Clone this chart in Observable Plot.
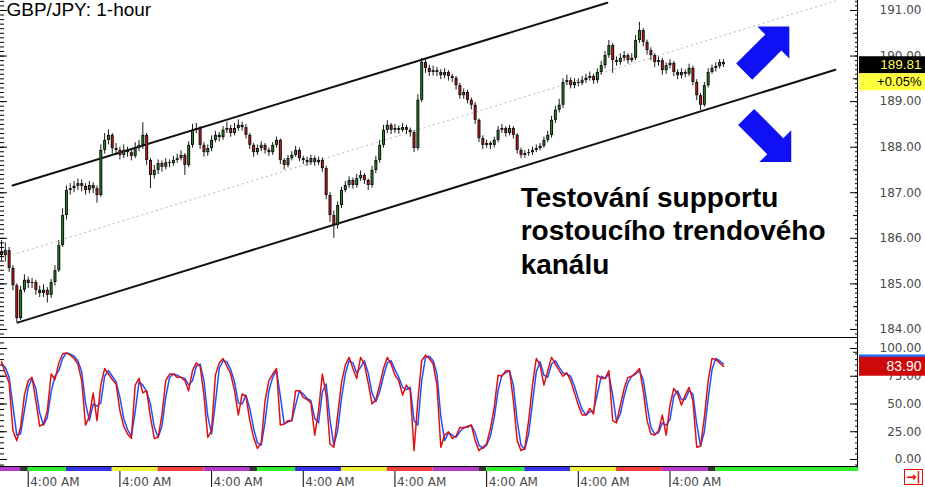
<!DOCTYPE html>
<html><head><meta charset="utf-8">
<script src="https://cdn.jsdelivr.net/npm/d3@7"></script>
<script src="https://cdn.jsdelivr.net/npm/@observablehq/plot@0.6"></script>
<style>
html,body{margin:0;padding:0;background:#fff;}
#chart{position:relative;width:925px;height:487px;overflow:hidden;font-family:"Liberation Sans",Arial,sans-serif;}
#chart svg{position:absolute;left:0;}
.hline{position:absolute;left:0;height:1px;background:#000;}
.vline{position:absolute;width:1px;background:#000;}
#endbtn{position:absolute;left:904px;top:469px;width:17px;height:14px;border:1px solid #e00;color:#e00;font:bold 12px "DejaVu Sans",sans-serif;line-height:14px;text-align:center;}
</style></head><body><div id="chart"></div>
<script>
// ---------------- DATA ----------------
const title = "GBP/JPY: 1-hour";
const annotation = "Testování supportu\nrostoucího trendového\nkanálu";
const firstOpen = 185.70;
// hourly closes (candle index 0..189)
const closes = [
185.62,185.73,185.34,184.96,184.24,184.86,185.08,185.01,185.03,184.86,
184.79,184.86,184.75,185.03,185.29,185.84,186.50,187.05,187.09,187.14,
187.20,187.14,187.05,187.16,187.09,186.94,187.93,188.15,188.26,187.97,
187.93,187.82,187.93,187.88,187.80,187.97,188.04,188.26,187.71,187.38,
187.49,187.64,187.56,187.66,187.64,187.71,187.75,187.82,187.60,188.04,
188.37,188.41,188.04,187.88,187.97,188.15,188.26,188.21,188.37,188.41,
188.30,188.41,188.48,188.43,188.26,188.04,187.88,187.97,188.04,187.93,
187.88,188.04,188.15,187.71,187.60,187.75,187.82,187.93,187.75,187.71,
187.66,187.75,187.66,187.71,187.53,186.94,186.50,186.28,186.72,187.05,
187.16,187.27,187.16,187.31,187.38,187.27,187.16,187.49,187.71,188.04,
188.37,188.48,188.37,188.41,188.37,188.43,188.37,188.32,187.97,189.03,
189.86,189.73,189.64,189.68,189.64,189.57,189.64,189.55,189.51,189.35,
189.13,189.20,189.03,188.92,188.59,188.19,188.04,188.08,188.04,188.15,
188.37,188.41,188.30,188.41,188.26,187.93,187.82,187.86,187.88,187.93,
187.97,188.02,188.15,188.26,188.59,188.81,188.92,189.42,189.46,189.35,
189.42,189.40,189.46,189.51,189.55,189.46,189.64,189.79,190.01,190.23,
189.90,189.86,189.95,190.01,189.90,189.95,190.34,190.56,190.30,190.12,
190.01,189.86,189.90,189.68,189.79,189.84,189.64,189.57,189.64,189.60,
189.73,189.42,189.13,188.92,189.35,189.64,189.73,189.77,189.86,189.81];
const highs = [
185.95,185.90,185.80,185.40,185.00,184.95,185.20,185.15,185.12,185.08,
184.95,184.98,184.92,185.10,185.40,185.95,186.65,187.15,187.20,187.25,
187.30,187.28,187.20,187.25,187.22,187.15,188.05,188.30,188.38,188.30,
188.08,188.00,188.05,188.00,187.95,188.10,188.15,188.54,188.30,187.75,
187.60,187.72,187.70,187.75,187.72,187.80,187.85,187.92,187.86,188.12,
188.50,188.52,188.45,188.10,188.05,188.25,188.35,188.32,188.45,188.55,
188.48,188.52,188.60,188.55,188.50,188.30,188.08,188.05,188.12,188.08,
187.98,188.10,188.22,188.18,187.75,187.82,187.90,188.02,187.98,187.80,
187.78,187.82,187.80,187.78,187.76,187.58,187.00,186.60,186.80,187.12,
187.25,187.35,187.32,187.40,187.48,187.42,187.30,187.58,187.80,188.15,
188.48,188.58,188.52,188.50,188.46,188.52,188.48,188.42,188.36,189.15,
189.95,189.92,189.80,189.78,189.75,189.70,189.72,189.68,189.60,189.55,
189.40,189.28,189.25,189.08,188.98,188.62,188.25,188.15,188.12,188.22,
188.45,188.50,188.45,188.48,188.45,188.30,187.98,187.92,187.95,188.00,
188.05,188.08,188.22,188.35,188.68,188.90,189.05,189.50,189.58,189.52,
189.50,189.50,189.55,189.60,189.65,189.60,189.72,189.88,190.10,190.34,
190.28,189.98,190.05,190.10,190.05,190.05,190.45,190.74,190.60,190.35,
190.18,190.05,189.98,189.95,189.85,189.92,189.88,189.70,189.72,189.70,
189.82,189.78,189.48,189.18,189.42,189.72,189.80,189.85,189.92,189.92];
const lows = [
185.50,185.48,185.25,184.85,184.15,184.20,184.80,184.90,184.90,184.75,
184.70,184.70,184.58,184.68,184.95,185.25,185.80,186.40,186.95,187.00,
187.05,187.02,186.95,186.98,186.98,186.77,186.90,187.85,188.05,187.85,
187.82,187.72,187.75,187.78,187.70,187.75,187.90,187.95,187.60,187.09,
187.30,187.40,187.45,187.50,187.55,187.58,187.65,187.70,187.38,187.55,
187.98,188.30,187.95,187.78,187.80,187.90,188.10,188.12,188.15,188.30,
188.22,188.25,188.35,188.35,188.18,187.95,187.78,187.82,187.90,187.85,
187.80,187.82,187.98,187.62,187.50,187.55,187.70,187.78,187.68,187.62,
187.58,187.60,187.58,187.60,187.45,186.85,186.35,186.00,186.20,186.65,
187.00,187.10,187.08,187.10,187.25,187.18,187.05,187.10,187.42,187.65,
187.98,188.30,188.28,188.30,188.28,188.32,188.28,188.22,187.88,187.92,
188.98,189.62,189.55,189.56,189.55,189.48,189.50,189.45,189.42,189.25,
189.05,189.05,188.95,188.82,188.50,188.10,187.95,187.98,187.95,187.98,
188.10,188.30,188.22,188.25,188.18,187.85,187.75,187.76,187.80,187.82,
187.88,187.92,187.98,188.10,188.20,188.52,188.75,188.85,189.35,189.28,
189.28,189.32,189.35,189.40,189.45,189.38,189.40,189.58,189.72,189.95,
189.62,189.78,189.80,189.88,189.82,189.85,189.90,190.28,190.20,190.02,
189.90,189.75,189.78,189.58,189.60,189.72,189.55,189.48,189.50,189.52,
189.55,189.35,189.02,188.81,188.88,189.30,189.60,189.65,189.72,189.75];
// stochastic %K (red) and %D (blue), one value per candle
const stochK = [
88,78,69,26,17,29,58,71,74,53, 30,32,44,77,72,87,95,96,94,91,
86,71,31,39,60,35,67,82,77,72, 68,44,30,23,19,67,73,60,62,38,
19,20,40,71,77,77,74,74,71,62, 80,87,84,58,20,26,76,87,91,84,
77,62,40,59,57,35,20,10,15,53, 71,77,82,31,32,35,35,62,62,56,
54,51,22,44,77,58,14,11,40,69, 85,92,82,73,92,86,69,50,54,67,
82,92,86,76,71,58,67,62,8,53, 89,94,91,86,67,11,22,25,19,21,
29,28,30,31,17,8,11,14,28,47, 76,75,80,80,53,17,8,10,35,67,
91,85,67,80,92,86,80,75,78,71, 60,49,40,40,46,41,76,73,73,80,
35,33,49,64,74,75,78,82,62,35, 23,22,26,40,22,49,64,59,49,58,
65,53,11,12,38,71,91,90,87,83.9];
const stochD = [
86,83,74,48,22,23,44,65,73,64, 42,31,38,61,75,80,91,96,95,93,
89,79,51,35,50,48,51,75,80,75, 70,56,37,27,21,43,70,67,61,50,
29,20,30,56,74,77,76,74,73,67, 71,84,86,71,39,23,51,82,89,88,
81,70,51,50,58,46,28,15,13,34, 62,74,80,57,32,34,35,49,62,59,
55,53,37,33,61,68,36,13,26,55, 77,89,87,78,83,89,78,60,52,61,
75,87,89,81,74,65,63,65,35,31, 71,92,93,89,77,39,17,24,22,20,
25,29,29,31,24,13,10,13,21,38, 62,76,78,80,67,35,13,9,23,51,
79,88,76,74,86,89,83,78,77,75, 66,55,45,40,43,44,59,75,73,77,
58,34,41,57,69,75,77,80,72,49, 29,23,24,33,31,36,57,62,54,54,
62,59,32,12,25,55,81,91,89,86];
// trend channel (hour index, price)
const upperLine = [{h: 2.9, p: 187.16}, {h: 158.6, p: 191.17}];
const lowerLine = [{h: 4.2, p: 184.15}, {h: 218.3, p: 189.70}];
const midLine   = [{h: 4.2, p: 185.67}, {h: 218.3, p: 191.21}];
// breakout / breakdown arrows (hour index, price)
const arrows = [{h: 199.5, p: 190.06, dir: "up"}, {h: 200.0, p: 188.26, dir: "down"}];
const annotationPos = {h: 135.9, p: 186.19};
// axes
const priceTicks = [184, 185, 186, 187, 188, 189, 190, 191];
const stochTicks = [0, 25, 50, 75, 100];
const timeTicks = [7, 31, 55, 79, 103, 127, 151, 175];
const timeLabel = "4:00 AM";
const lastPriceLabel = "189.81";
const changeLabel = "+0.05%";
const lastStochLabel = "83.90";
// session colour strip (hour ranges, session id 0..5)
const sessionStart = [-0.3, 5, 7, 17, 29, 41, 53, 65, 67, 77, 89, 101, 113, 125, 127, 137, 149, 161, 173, 185, 187];
const sessionEnd   = [5, 7, 17, 29, 41, 53, 65, 67, 77, 89, 101, 113, 125, 127, 137, 149, 161, 173, 185, 187, 224.4];
const sessionId    = [5, 0, 1, 2, 3, 4, 5, 0, 1, 2, 3, 4, 5, 0, 1, 2, 3, 4, 5, 0, 1];

// ---------------- LAYOUT ----------------
const W = 925, FR = 858;               // frame right edge
const hourDomain = [-0.26, 224.35];
const priceDomain = [183.802, 191.219];
const stochDomain = [-6.31, 109.91];
const UP = "#1f8f1f", DOWN = "#e31010";
const sessionColors = ["#333333", "#33ee33", "#3434e6", "#f0f03a", "#f04040", "#b43cc8"];
const axisFont = "'DejaVu Sans', sans-serif";
const style = {background: "transparent", fontFamily: "'Liberation Sans', Arial, sans-serif", overflow: "visible"};

const candles = closes.map((c, i) => ({i, o: i ? closes[i - 1] : firstOpen, c, h: highs[i], l: lows[i]}));
const priceMinor = d3.range(1839, 1913).map(d => d / 10);
const priceHalf = priceTicks.map(d => d + 0.5).concat([183.5]);
const stochMinor = d3.range(-5, 106, 5);

function arrowSymbol(sign) {
  const pts = [[25,-26],[-6,-26],[1.7,-18.3],[-26.6,10],[-11,25.6],[17.3,-2.7],[25,5]].map(([x, y]) => [x * 1.03, y * sign * 1.03]);
  return {draw(ctx) { ctx.moveTo(pts[0][0], pts[0][1]); for (const p of pts.slice(1)) ctx.lineTo(p[0], p[1]); ctx.closePath(); }};
}

const A = Plot.plot({
  width: W, height: 338, marginLeft: 0, marginRight: W - FR, marginTop: 0, marginBottom: 0,
  style,
  x: {domain: hourDomain, axis: null},
  y: {domain: priceDomain, axis: null},
  marks: [
    Plot.line(midLine, {x: "h", y: "p", stroke: "#bdbdbd", strokeWidth: 1, strokeDasharray: "1.5,3.5"}),
    Plot.line(upperLine, {x: "h", y: "p", stroke: "#111", strokeWidth: 2}),
    Plot.line(lowerLine, {x: "h", y: "p", stroke: "#111", strokeWidth: 2}),
    Plot.ruleX(candles, {x: "i", y1: "l", y2: "h", stroke: "#1a1a1a", strokeWidth: 1}),
    Plot.ruleX(candles, {x: "i", y1: d => Math.max(d.o, d.c), y2: d => Math.min(d.o, d.c), stroke: "#111", strokeWidth: 3}),
    Plot.ruleX(candles, {filter: d => Math.abs(d.c - d.o) > 0.05, x: "i", y1: d => Math.max(d.o, d.c), y2: d => Math.min(d.o, d.c),
      stroke: d => d.c >= d.o ? UP : DOWN, strokeWidth: 1, insetTop: 1, insetBottom: 1}),
    // tick marks on the right (inward) and left edges
    Plot.ruleY(priceMinor, {y: d => d, insetLeft: FR - 3, stroke: "#000"}),
    Plot.ruleY(priceHalf, {y: d => d, insetLeft: FR - 5, stroke: "#000"}),
    Plot.ruleY(priceTicks, {y: d => d, insetLeft: FR - 8, stroke: "#000"}),
    Plot.ruleY(priceMinor, {y: d => d, insetRight: FR - 4, stroke: "#000"}),
    Plot.ruleY(priceTicks, {y: d => d, insetRight: FR - 7, stroke: "#000"}),
    Plot.text(priceTicks, {y: d => d, text: d => d.toFixed(2), frameAnchor: "right", dx: 63, textAnchor: "end", fontSize: 12, fontFamily: axisFont, fill: "#4a4a4a"}),
    // last price boxes
    Plot.ruleY([closes[closes.length - 1]], {y: d => d, stroke: "#000", strokeWidth: 17, insetLeft: FR + 1, insetRight: -(W - FR)}),
    Plot.ruleY([closes[closes.length - 1]], {y: d => d, dy: 17, stroke: "#ffff40", strokeWidth: 17, insetLeft: FR + 1, insetRight: -(W - FR)}),
    Plot.text([lastPriceLabel], {y: () => closes[closes.length - 1], text: d => d, frameAnchor: "right", dx: 63, textAnchor: "end", fontSize: 13.5, fill: "#ffff50"}),
    Plot.text([changeLabel], {y: () => closes[closes.length - 1], dy: 17, text: d => d, frameAnchor: "right", dx: 63, textAnchor: "end", fontSize: 13, fill: "#000"}),
    // arrows
    Plot.dot(arrows.filter(d => d.dir === "up"), {x: "h", y: "p", r: 5, symbol: arrowSymbol(1), fill: "#1010f5", stroke: "none"}),
    Plot.dot(arrows.filter(d => d.dir === "down"), {x: "h", y: "p", r: 5, symbol: arrowSymbol(-1), fill: "#1010f5", stroke: "none"}),
    // texts
    Plot.text([annotation], {x: () => annotationPos.h, y: () => annotationPos.p, text: d => d, textAnchor: "start", lineAnchor: "middle",
      lineHeight: 1.2, fontSize: 28, fontWeight: "bold", fill: "#000"}),
    Plot.text([title], {frameAnchor: "top-left", text: d => d, dx: 6, dy: 2, lineAnchor: "top", textAnchor: "start", fontSize: 19, fill: "#000"})
  ]
});

const B = Plot.plot({
  width: W, height: 129, marginLeft: 0, marginRight: W - FR, marginTop: 0, marginBottom: 0,
  style,
  x: {domain: hourDomain, axis: null},
  y: {domain: stochDomain, axis: null},
  marks: [
    Plot.ruleY(stochMinor, {y: d => d, insetLeft: FR - 3, stroke: "#000"}),
    Plot.ruleY(stochTicks, {y: d => d, insetLeft: FR - 8, stroke: "#000"}),
    Plot.ruleY(stochMinor, {y: d => d, insetRight: FR - 4, stroke: "#000"}),
    Plot.ruleY(stochTicks, {y: d => d, insetRight: FR - 7, stroke: "#000"}),
    Plot.text(stochTicks, {y: d => d, text: d => d.toFixed(2), frameAnchor: "right", dx: 63, textAnchor: "end", fontSize: 12, fontFamily: axisFont, fill: "#4a4a4a"}),
    Plot.line(stochD, {x: (d, i) => i, y: d => d, stroke: "#1e50ff", strokeWidth: 1.5}),
    Plot.line(stochK, {x: (d, i) => i, y: d => d, stroke: "#dd1111", strokeWidth: 1.5}),
    Plot.ruleY([stochD[stochD.length - 1]], {y: d => d, stroke: "#1e6cff", strokeWidth: 19, insetLeft: FR + 1, insetRight: -(W - FR)}),
    Plot.ruleY([stochK[stochK.length - 1]], {y: d => d, stroke: "#cc0a0a", strokeWidth: 19, insetLeft: FR + 1, insetRight: -(W - FR)}),
    Plot.text([lastStochLabel], {y: () => stochK[stochK.length - 1], text: d => d, frameAnchor: "right", dx: 63, textAnchor: "end", fontSize: 14, fill: "#fff"})
  ]
});

const sessions = sessionStart.map((s, k) => ({s, e: sessionEnd[k], id: sessionId[k]}));
const C = Plot.plot({
  width: W, height: 21, marginLeft: 0, marginRight: W - FR, marginTop: 0, marginBottom: 0,
  style,
  x: {domain: hourDomain, axis: null},
  marks: [
    Plot.rect(sessions, {x1: "s", x2: "e", fill: d => sessionColors[d.id], insetTop: 1, insetBottom: 16}),
    Plot.ruleX(timeTicks, {x: d => d, insetTop: 5, stroke: "#000"}),
    Plot.text(timeTicks, {x: d => d, text: () => timeLabel, frameAnchor: "bottom", lineAnchor: "bottom", dx: 2, dy: -2, textAnchor: "start",
      fontSize: 12, fontFamily: axisFont, fill: "#4a4a4a"})
  ]
});

const chart = document.getElementById("chart");
A.style.top = "0px"; B.style.top = "337px"; C.style.top = "466px";
chart.append(A, B, C);
function line(cls, css) { const d = document.createElement("div"); d.className = cls; Object.assign(d.style, css); chart.append(d); }
line("hline", {top: "337px", width: FR + "px"});
line("hline", {top: "466px", width: FR + "px"});
line("vline", {left: (FR - 1) + "px", top: "0px", height: "466px"});
const btn = document.createElement("div"); btn.id = "endbtn"; btn.textContent = "→|"; chart.append(btn);
</script></body></html>
